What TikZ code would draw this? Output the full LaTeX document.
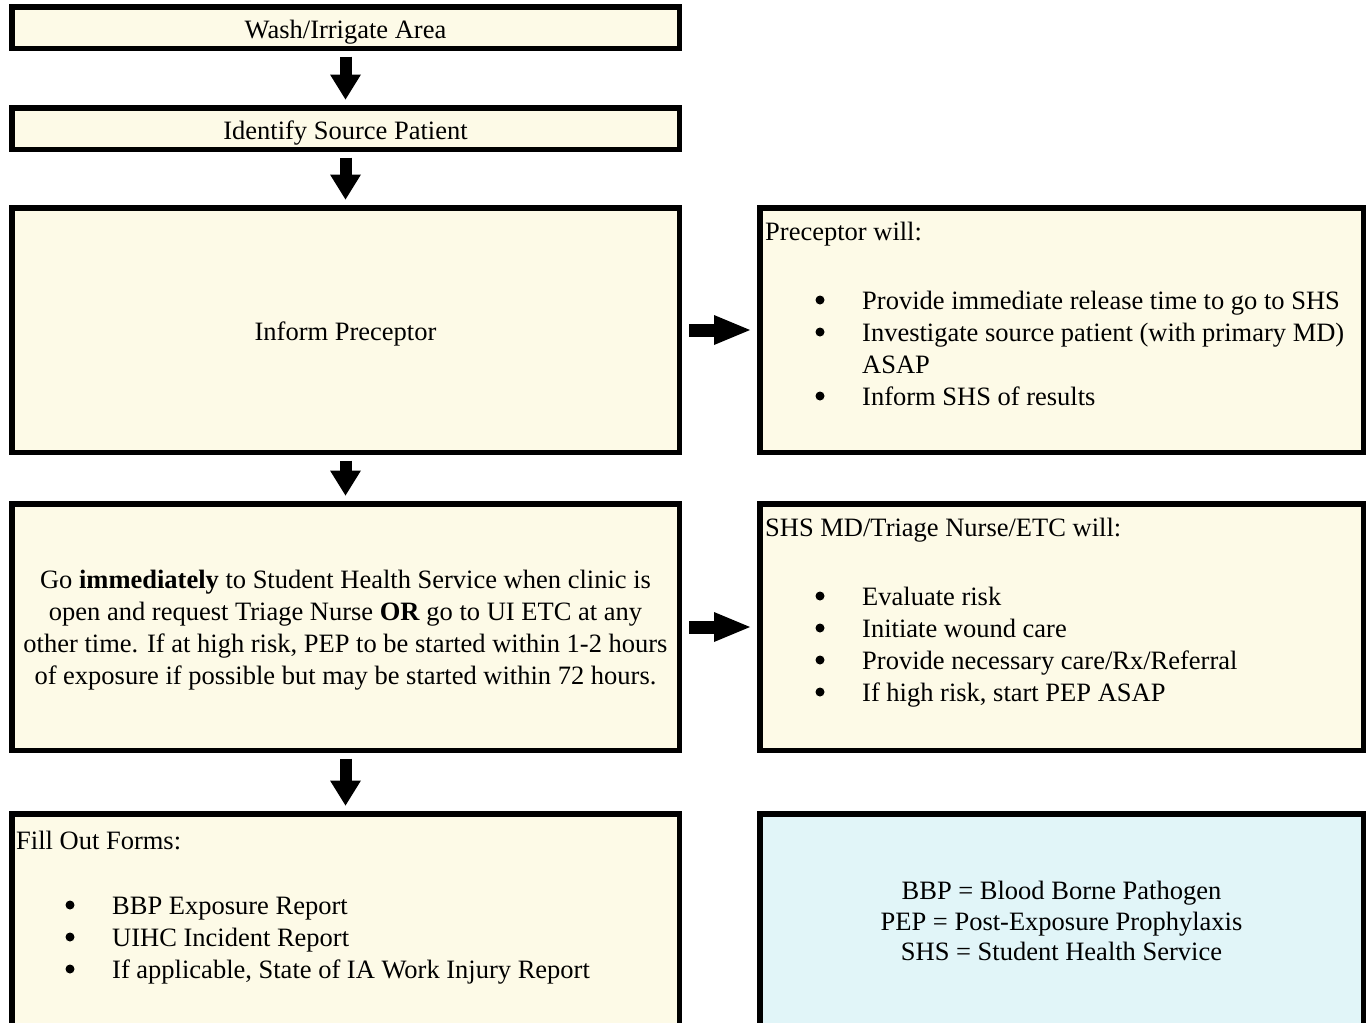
\documentclass[tikz,border=0pt]{standalone}
\usepackage{fontspec}
\setmainfont{Liberation Serif}
\usetikzlibrary{arrows.meta}
\definecolor{cream}{RGB}{253,250,231}
\definecolor{paleblue}{RGB}{225,245,248}
\tikzset{
  box/.style={draw=black, line width=5.5pt, fill=cream, inner sep=0pt, rectangle,
    font=\fontsize{26.5}{32}\selectfont, text height=27pt, text depth=6pt},
  leftbox/.style={box, minimum width=667.5pt},
  rightbox/.style={box, minimum width=603.5pt},
  txt/.style={inner sep=0pt, font=\fontsize{26.5}{32}\selectfont},
  dot/.style={circle, fill=black, inner sep=0pt, minimum size=9pt},
  downarrow/.style={draw=black, line width=12pt, shorten <=5.5pt, shorten >=5.5pt,
    -{Triangle[length=25pt,width=31pt,line width=0pt]}},
  rightarrow/.style={draw=black, line width=13pt, shorten <=7pt, shorten >=7pt,
    -{Triangle[length=36pt,width=30pt,line width=0pt]}},
}
\begin{document}
\begin{tikzpicture}[x=1pt,y=-1pt]
\useasboundingbox (0,0) rectangle (1366,1023);
\clip (0,0) rectangle (1366,1023);
\fill[white] (0,0) rectangle (1366,1023);

% left column
\node[leftbox, minimum height=41.5pt] (wash) at (345.5,27.5) {Wash/Irrigate Area};
\node[leftbox, minimum height=41.5pt] (ident) at (345.5,128.5) {Identify Source Patient};
\node[leftbox, minimum height=244.5pt] (inform) at (345.5,330) {Inform Preceptor};
\node[leftbox, minimum height=246.5pt] (goshs) at (345.5,627) {};
\node[leftbox, minimum height=223.5pt] (forms) at (345.5,925.5) {};

% right column
\node[rightbox, minimum height=244.5pt] (prec) at (1061.5,330) {};
\node[rightbox, minimum height=246.5pt] (shs) at (1061.5,627) {};
\node[rightbox, fill=paleblue, minimum height=223.5pt] (legend) at (1061.5,925.5) {};

% connectors
\draw[downarrow] (wash) -- (ident);
\draw[downarrow] (ident) -- (inform);
\draw[downarrow] (inform) -- (goshs);
\draw[downarrow] (goshs) -- (forms);
\draw[rightarrow] (inform) -- (prec);
\draw[rightarrow] (goshs) -- (shs);

% box 4 text
\node[txt, align=center] (gotext) at (345.5,630.5) {Go \textbf{immediately} to Student Health Service when clinic is\\
open and request Triage Nurse \textbf{OR} go to UI ETC at any\\
other time. If at high risk, PEP to be started within 1-2 hours\\
of exposure if possible but may be started within 72 hours.};

% preceptor box text
\node[txt, anchor=base west] (prechead) at (765,240) {Preceptor will:};
\node[dot] (pb1) at (820,300) {};
\node[txt, anchor=base west] (pt1) at (862,309) {Provide immediate release time to go to SHS};
\node[dot] (pb2) at (820,332) {};
\node[txt, anchor=base west] (pt2) at (862,341) {Investigate source patient (with primary MD)};
\node[txt, anchor=base west] (pt2b) at (862,373) {ASAP};
\node[dot] (pb3) at (820,396) {};
\node[txt, anchor=base west] (pt3) at (862,405) {Inform SHS of results};

% SHS box text
\node[txt, anchor=base west] (shshead) at (765,536) {SHS MD/Triage Nurse/ETC will:};
\node[dot] (sb1) at (820,596) {};
\node[txt, anchor=base west] (st1) at (862,605) {Evaluate risk};
\node[dot] (sb2) at (820,628) {};
\node[txt, anchor=base west] (st2) at (862,637) {Initiate wound care};
\node[dot] (sb3) at (820,660) {};
\node[txt, anchor=base west] (st3) at (862,669) {Provide necessary care/Rx/Referral};
\node[dot] (sb4) at (820,692) {};
\node[txt, anchor=base west] (st4) at (862,701) {If high risk, start PEP ASAP};

% forms box text
\node[txt, anchor=base west] (formhead) at (16,849) {Fill Out Forms:};
\node[dot] (fb1) at (70,905) {};
\node[txt, anchor=base west] (ft1) at (112,914) {BBP Exposure Report};
\node[dot] (fb2) at (70,937) {};
\node[txt, anchor=base west] (ft2) at (112,946) {UIHC Incident Report};
\node[dot] (fb3) at (70,969) {};
\node[txt, anchor=base west] (ft3) at (112,978) {If applicable, State of IA Work Injury Report};

% legend text
\node[txt, anchor=base] (lg1) at (1061.5,899) {BBP = Blood Borne Pathogen};
\node[txt, anchor=base] (lg2) at (1061.5,930) {PEP = Post-Exposure Prophylaxis};
\node[txt, anchor=base] (lg3) at (1061.5,960) {SHS = Student Health Service};
\end{tikzpicture}
\end{document}
